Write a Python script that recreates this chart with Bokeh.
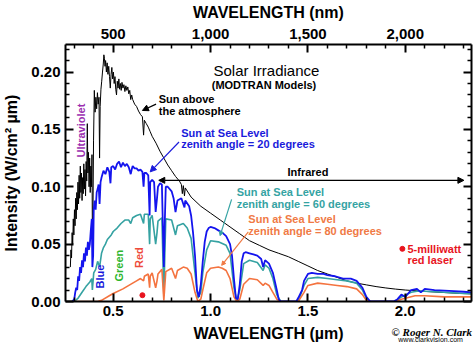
from bokeh.plotting import figure
from bokeh.models import (Range1d, LinearAxis, FixedTicker, NumeralTickFormatter,
                          CustomJSTickFormatter, Label, Arrow, NormalHead)
from bokeh.embed import file_html
from bokeh.resources import INLINE
import math

# ---------------- data ----------------
top_wl = [0.280, 0.283, 0.286, 0.289, 0.292, 0.295, 0.298, 0.301, 0.304, 0.307,
          0.310, 0.313, 0.316, 0.319, 0.322, 0.325, 0.328, 0.331, 0.334, 0.337,
          0.340, 0.343, 0.346, 0.349, 0.352, 0.355, 0.358, 0.361, 0.364, 0.367,
          0.370, 0.373, 0.376, 0.379, 0.382, 0.385, 0.388, 0.391, 0.393, 0.396,
          0.399, 0.403, 0.407, 0.411, 0.415, 0.419, 0.423, 0.427, 0.430, 0.433,
          0.437, 0.441, 0.445, 0.449, 0.452, 0.455, 0.458, 0.461, 0.465, 0.469,
          0.473, 0.477, 0.481, 0.485, 0.489, 0.493, 0.497, 0.501, 0.505, 0.509,
          0.513, 0.517, 0.521, 0.525, 0.529, 0.533, 0.537, 0.541, 0.545, 0.550,
          0.555, 0.560, 0.565, 0.570, 0.575, 0.580, 0.585, 0.590, 0.595, 0.600,
          0.610, 0.620, 0.630, 0.640, 0.650, 0.656, 0.660, 0.670, 0.680, 0.690,
          0.700, 0.720, 0.740, 0.760, 0.780, 0.800, 0.820, 0.840, 0.850, 0.855,
          0.860, 0.866, 0.870, 0.900, 0.950, 1.000, 1.050, 1.100, 1.150, 1.200,
          1.250, 1.300, 1.350, 1.400, 1.450, 1.500, 1.550, 1.600, 1.650, 1.700,
          1.750, 1.800, 1.850, 1.900, 1.950, 2.000, 2.100, 2.200, 2.300, 2.340]
top_val = [0.030, 0.045, 0.038, 0.060, 0.050, 0.072, 0.058, 0.080, 0.066, 0.090,
           0.072, 0.095, 0.080, 0.104, 0.085, 0.110, 0.090, 0.118, 0.095, 0.112,
           0.088, 0.108, 0.094, 0.120, 0.098, 0.115, 0.092, 0.122, 0.105, 0.155,
           0.112, 0.130, 0.100, 0.125, 0.095, 0.118, 0.100, 0.128, 0.060, 0.075,
           0.140, 0.184, 0.165, 0.178, 0.168, 0.182, 0.172, 0.178, 0.125, 0.170,
           0.185, 0.192, 0.200, 0.207, 0.215, 0.212, 0.205, 0.210, 0.200, 0.208,
           0.198, 0.205, 0.196, 0.186, 0.198, 0.204, 0.194, 0.200, 0.190, 0.196,
           0.185, 0.180, 0.192, 0.186, 0.194, 0.185, 0.190, 0.184, 0.191, 0.186,
           0.189, 0.183, 0.188, 0.184, 0.187, 0.181, 0.184, 0.176, 0.180, 0.176,
           0.172, 0.170, 0.166, 0.163, 0.161, 0.145, 0.158, 0.155, 0.152, 0.148,
           0.144, 0.138, 0.131, 0.125, 0.119, 0.114, 0.109, 0.105, 0.102, 0.094,
           0.101, 0.092, 0.099, 0.091, 0.083, 0.077, 0.071, 0.065, 0.059, 0.053,
           0.049, 0.045, 0.042, 0.039, 0.035, 0.031, 0.027, 0.024, 0.021, 0.018,
           0.016, 0.0145, 0.0130, 0.0118, 0.0108, 0.0100, 0.0088, 0.0078, 0.0069, 0.0066]

z20_wl = [0.290, 0.300, 0.305, 0.310, 0.315, 0.320, 0.325, 0.330, 0.335, 0.340,
          0.345, 0.350, 0.355, 0.360, 0.365, 0.370, 0.375, 0.380, 0.385, 0.390,
          0.393, 0.397, 0.400, 0.405, 0.410, 0.415, 0.420, 0.425, 0.430, 0.435,
          0.440, 0.450, 0.460, 0.470, 0.480, 0.486, 0.490, 0.500, 0.510, 0.520,
          0.530, 0.540, 0.550, 0.560, 0.570, 0.580, 0.590, 0.595, 0.600, 0.610,
          0.620, 0.630, 0.640, 0.650, 0.656, 0.660, 0.670, 0.680, 0.687, 0.690,
          0.700, 0.710, 0.718, 0.725, 0.730, 0.740, 0.750, 0.760, 0.765, 0.770,
          0.780, 0.800, 0.810, 0.820, 0.830, 0.850, 0.866, 0.870, 0.890, 0.900,
          0.910, 0.920, 0.930, 0.940, 0.950, 0.960, 0.970, 0.980, 0.990, 1.000,
          1.020, 1.040, 1.060, 1.080, 1.100, 1.110, 1.120, 1.130, 1.140, 1.150,
          1.160, 1.170, 1.180, 1.200, 1.220, 1.240, 1.260, 1.270, 1.280, 1.300,
          1.320, 1.340, 1.350, 1.360, 1.440, 1.450, 1.470, 1.480, 1.500, 1.520,
          1.550, 1.580, 1.600, 1.640, 1.680, 1.720, 1.750, 1.780, 1.800, 1.820,
          1.940, 1.960, 1.980, 2.000, 2.030, 2.060, 2.080, 2.100, 2.150, 2.200,
          2.250, 2.300, 2.340]
z20_val = [0.000, 0.002, 0.008, 0.012, 0.010, 0.022, 0.018, 0.030, 0.025, 0.036,
           0.030, 0.042, 0.035, 0.047, 0.040, 0.052, 0.045, 0.050, 0.062, 0.072,
           0.030, 0.040, 0.080, 0.088, 0.080, 0.095, 0.098, 0.102, 0.085, 0.104,
           0.108, 0.114, 0.111, 0.117, 0.113, 0.103, 0.117, 0.118, 0.115, 0.120,
           0.122, 0.117, 0.121, 0.118, 0.120, 0.117, 0.111, 0.115, 0.118, 0.116,
           0.116, 0.114, 0.115, 0.113, 0.100, 0.112, 0.112, 0.110, 0.075, 0.104,
           0.106, 0.104, 0.078, 0.090, 0.100, 0.103, 0.102, 0.030, 0.070, 0.100,
           0.100, 0.096, 0.090, 0.078, 0.088, 0.090, 0.082, 0.088, 0.083, 0.075,
           0.060, 0.040, 0.010, 0.004, 0.015, 0.035, 0.052, 0.061, 0.064, 0.065,
           0.064, 0.062, 0.060, 0.057, 0.050, 0.040, 0.020, 0.003, 0.002, 0.015,
           0.035, 0.042, 0.043, 0.042, 0.041, 0.040, 0.037, 0.030, 0.036, 0.033,
           0.025, 0.010, 0.002, 0.000, 0.000, 0.003, 0.010, 0.018, 0.024, 0.025,
           0.024, 0.024, 0.023, 0.022, 0.020, 0.020, 0.018, 0.012, 0.004, 0.000,
           0.000, 0.002, 0.006, 0.004, 0.010, 0.011, 0.008, 0.011, 0.010, 0.0095,
           0.009, 0.0085, 0.008]

z60_wl = [0.300, 0.320, 0.340, 0.360, 0.380, 0.390, 0.393, 0.400, 0.410, 0.420,
          0.430, 0.440, 0.450, 0.460, 0.470, 0.480, 0.490, 0.500, 0.520, 0.540,
          0.560, 0.580, 0.590, 0.600, 0.620, 0.640, 0.656, 0.660, 0.680, 0.687,
          0.690, 0.700, 0.718, 0.725, 0.730, 0.750, 0.760, 0.765, 0.770, 0.800,
          0.820, 0.830, 0.860, 0.880, 0.900, 0.920, 0.935, 0.950, 0.960, 0.980,
          1.000, 1.040, 1.080, 1.100, 1.120, 1.135, 1.150, 1.170, 1.200, 1.240,
          1.270, 1.280, 1.300, 1.320, 1.340, 1.360, 1.450, 1.480, 1.500, 1.550,
          1.600, 1.650, 1.700, 1.750, 1.780, 1.800, 1.820, 1.950, 1.980, 2.030,
          2.060, 2.100, 2.200, 2.300, 2.340]
z60_val = [0.000, 0.003, 0.008, 0.013, 0.017, 0.020, 0.010, 0.025, 0.028, 0.035,
           0.030, 0.042, 0.047, 0.050, 0.054, 0.056, 0.058, 0.061, 0.064, 0.068,
           0.071, 0.071, 0.068, 0.073, 0.075, 0.076, 0.068, 0.076, 0.076, 0.050,
           0.072, 0.075, 0.050, 0.060, 0.070, 0.073, 0.005, 0.040, 0.072, 0.071,
           0.058, 0.066, 0.068, 0.064, 0.055, 0.025, 0.003, 0.008, 0.025, 0.045,
           0.053, 0.052, 0.049, 0.042, 0.012, 0.001, 0.010, 0.033, 0.036, 0.034,
           0.027, 0.032, 0.029, 0.020, 0.006, 0.000, 0.000, 0.014, 0.020, 0.021,
           0.020, 0.019, 0.018, 0.016, 0.010, 0.003, 0.000, 0.000, 0.004, 0.008,
           0.009, 0.009, 0.008, 0.007, 0.007]

z80_wl = [0.300, 0.420, 0.440, 0.480, 0.500, 0.550, 0.600, 0.620, 0.640, 0.656,
          0.660, 0.680, 0.687, 0.690, 0.700, 0.718, 0.725, 0.730, 0.750, 0.760,
          0.770, 0.800, 0.820, 0.830, 0.860, 0.880, 0.900, 0.920, 0.935, 0.950,
          0.960, 0.980, 1.000, 1.040, 1.060, 1.080, 1.100, 1.120, 1.135, 1.150,
          1.170, 1.200, 1.240, 1.270, 1.280, 1.300, 1.320, 1.340, 1.360, 1.450,
          1.480, 1.500, 1.550, 1.600, 1.650, 1.700, 1.750, 1.780, 1.800, 1.820,
          1.950, 1.980, 2.050, 2.100, 2.200, 2.300, 2.340]
z80_val = [0.000, 0.000, 0.001, 0.005, 0.007, 0.011, 0.016, 0.018, 0.020, 0.018,
           0.022, 0.024, 0.012, 0.022, 0.025, 0.012, 0.018, 0.024, 0.028, 0.001,
           0.026, 0.029, 0.020, 0.027, 0.030, 0.029, 0.024, 0.008, 0.000, 0.002,
           0.010, 0.025, 0.029, 0.030, 0.029, 0.027, 0.020, 0.004, 0.000, 0.002,
           0.015, 0.020, 0.019, 0.014, 0.016, 0.014, 0.008, 0.002, 0.000, 0.000,
           0.008, 0.014, 0.016, 0.015, 0.014, 0.013, 0.011, 0.006, 0.001, 0.000,
           0.000, 0.002, 0.005, 0.005, 0.004, 0.004, 0.004]

laser_wl = [0.650]
laser_val = [0.0055]

x_ticks = [0.5, 1.0, 1.5, 2.0]
x_minor = [0.3, 0.4, 0.6, 0.7, 0.8, 0.9, 1.1, 1.2, 1.3, 1.4, 1.6, 1.7, 1.8, 1.9, 2.1, 2.2, 2.3]
nm_ticks = [500, 1000, 1500, 2000]
nm_minor = [300, 400, 600, 700, 800, 900, 1100, 1200, 1300, 1400, 1600, 1700, 1800, 1900, 2100, 2200, 2300]
y_ticks = [0.00, 0.05, 0.10, 0.15, 0.20]
y_minor = [0.01, 0.02, 0.03, 0.04, 0.06, 0.07, 0.08, 0.09, 0.11, 0.12, 0.13, 0.14,
           0.16, 0.17, 0.18, 0.19, 0.21, 0.22]

# ---------------- figure ----------------
FONT = "Liberation Sans"
X0, X1 = 0.255, 2.34
p = figure(width=474, height=345, output_backend="svg", toolbar_location=None,
           x_range=Range1d(X0, X1), y_range=Range1d(0, 0.224),
           x_axis_location=None, y_axis_location=None,
           min_border_left=63, min_border_right=3, min_border_top=43, min_border_bottom=42)
p.extra_x_ranges = {"nm": Range1d(X0 * 1000, X1 * 1000)}
p.grid.grid_line_color = None
p.outline_line_color = None
p.background_fill_color = "white"
p.border_fill_color = "white"


def style_axis(ax, labels=True):
    ax.axis_line_color = "black"
    ax.axis_line_width = 2
    ax.major_tick_line_color = "black"
    ax.major_tick_line_width = 2
    ax.minor_tick_line_color = "black"
    ax.minor_tick_line_width = 1.5
    ax.major_tick_in = 8
    ax.major_tick_out = 0
    ax.minor_tick_in = 4
    ax.minor_tick_out = 0
    ax.major_label_text_font = FONT
    ax.major_label_text_font_style = "bold"
    ax.major_label_text_font_size = "15px"
    ax.major_label_text_color = "black"
    ax.axis_label_text_font = FONT
    ax.axis_label_text_font_style = "bold"
    ax.axis_label_text_font_size = "16px"
    ax.axis_label_text_color = "black"
    if not labels:
        ax.major_label_text_font_size = "0px"
        ax.major_label_text_alpha = 0


xb = LinearAxis(ticker=FixedTicker(ticks=x_ticks, minor_ticks=x_minor),
                formatter=NumeralTickFormatter(format="0.0"),
                axis_label="WAVELENGTH (\u00b5m)")
style_axis(xb)
xb.major_label_standoff = 4
xb.axis_label_standoff = 6
p.add_layout(xb, "below")

xt = LinearAxis(x_range_name="nm", ticker=FixedTicker(ticks=nm_ticks, minor_ticks=nm_minor),
                formatter=NumeralTickFormatter(format="0,0"),
                axis_label="WAVELENGTH (nm)")
style_axis(xt)
xt.major_label_standoff = 6
xt.axis_label_standoff = 5
p.add_layout(xt, "above")

yl = LinearAxis(ticker=FixedTicker(ticks=y_ticks, minor_ticks=y_minor),
                formatter=NumeralTickFormatter(format="0.00"),
                axis_label="Intensity (W/cm\u00b2 \u00b5m)")
style_axis(yl)
yl.major_label_standoff = 5
yl.axis_label_standoff = 8
p.add_layout(yl, "left")

yr = LinearAxis(ticker=FixedTicker(ticks=y_ticks, minor_ticks=y_minor))
style_axis(yr, labels=False)
yr.major_label_standoff = 0
p.add_layout(yr, "right")


# copyright: undecorated extra axes whose single tick label carries the credit text
def credit_axis(pos, text, font, style, size, standoff):
    ax = LinearAxis(ticker=FixedTicker(ticks=[pos], minor_ticks=[]),
                    formatter=CustomJSTickFormatter(code="return %r" % text))
    ax.axis_line_color = None
    ax.major_tick_line_color = None
    ax.minor_tick_line_color = None
    ax.major_tick_in = 0
    ax.major_tick_out = 0
    ax.minor_tick_in = 0
    ax.minor_tick_out = 0
    ax.major_label_standoff = standoff
    ax.major_label_text_font = font
    ax.major_label_text_font_style = style
    ax.major_label_text_font_size = size
    ax.major_label_text_color = "black"
    p.add_layout(ax, "below")


credit_x = [2.136, 2.130]
credit_axis(credit_x[0], "\u00a9 Roger N. Clark", "Liberation Serif", "bold italic", "11px", -19)
credit_axis(credit_x[1], "www.clarkvision.com", FONT, "normal", "7px", -9)

# ---------------- spectra ----------------
p.line(top_wl, top_val, line_color="black", line_width=1)
p.line(z60_wl, z60_val, line_color="#35A2A2", line_width=1.6)
p.line(z80_wl, z80_val, line_color="#F4733F", line_width=1.6)
p.line(z20_wl, z20_val, line_color="#1414EE", line_width=1.8)
p.scatter(laser_wl, laser_val, size=5, color="#E8141E")


# ---------------- annotations ----------------
def lab(x, y, text, color="black", size="11px", style="bold", angle=0.0,
        align="left", baseline="middle", font=FONT):
    p.add_layout(Label(x=x, y=y, text=text, text_color=color, text_font_size=size,
                       text_font_style=style, angle=angle, text_align=align,
                       text_baseline=baseline, text_font=font))


def arrow(x0, y0, x1, y1, color, both=False, head=6):
    kw = {}
    if both:
        kw["start"] = NormalHead(size=head, fill_color=color, line_color=color)
    p.add_layout(Arrow(x_start=x0, y_start=y0, x_end=x1, y_end=y1,
                       end=NormalHead(size=head, fill_color=color, line_color=color),
                       line_color=color, line_width=1.2, **kw))


lab(1.015, 0.2010, "Solar Irradiance", size="15px", style="normal")
lab(1.006, 0.1885, "(MODTRAN Models)", size="11px")

lab(0.734, 0.1766, "Sun above")
lab(0.734, 0.1660, "the atmosphere")
arrow(0.720, 0.1720, 0.650, 0.1665, "black")

BLUE = "#1A1ADB"
lab(0.849, 0.1465, "Sun at Sea Level", color=BLUE)
lab(0.849, 0.1370, "zenith angle = 20 degrees", color=BLUE)
arrow(0.838, 0.1390, 0.690, 0.1130, BLUE)

lab(1.500, 0.1125, "Infrared", align="center")
arrow(0.734, 0.1056, 2.301, 0.1056, "black", both=True)

TEAL = "#35A3A3"
lab(1.134, 0.0953, "Sun at Sea Level", color=TEAL)
lab(1.134, 0.0847, "zenith angle = 60 degrees", color=TEAL)
arrow(1.108, 0.0890, 1.049, 0.0574, TEAL, head=4)

ORNG = "#F07A45"
lab(1.194, 0.0718, "Sun at Sea Level", color=ORNG)
lab(1.194, 0.0612, "zenith angle = 80 degrees", color=ORNG)
arrow(1.194, 0.0606, 1.057, 0.0315, ORNG, head=4)

lab(0.337, 0.149, "Ultraviolet", color="#9B30B0", angle=math.pi / 2, align="center")
lab(0.434, 0.0218, "Blue", color="#1A1ADB", angle=math.pi / 2, align="center")
lab(0.532, 0.0313, "Green", color="#2CB52C", angle=math.pi / 2, align="center")
lab(0.632, 0.0382, "Red", color="#EE4B3B", angle=math.pi / 2, align="center")

p.scatter([1.985], [0.0459], size=5, color="#E8141E")
lab(2.011, 0.0459, "5-milliwatt", color="#E8141E")
lab(2.011, 0.0364, "red laser", color="#E8141E")

open("out.html", "w", encoding="utf-8").write(file_html(p, INLINE))
